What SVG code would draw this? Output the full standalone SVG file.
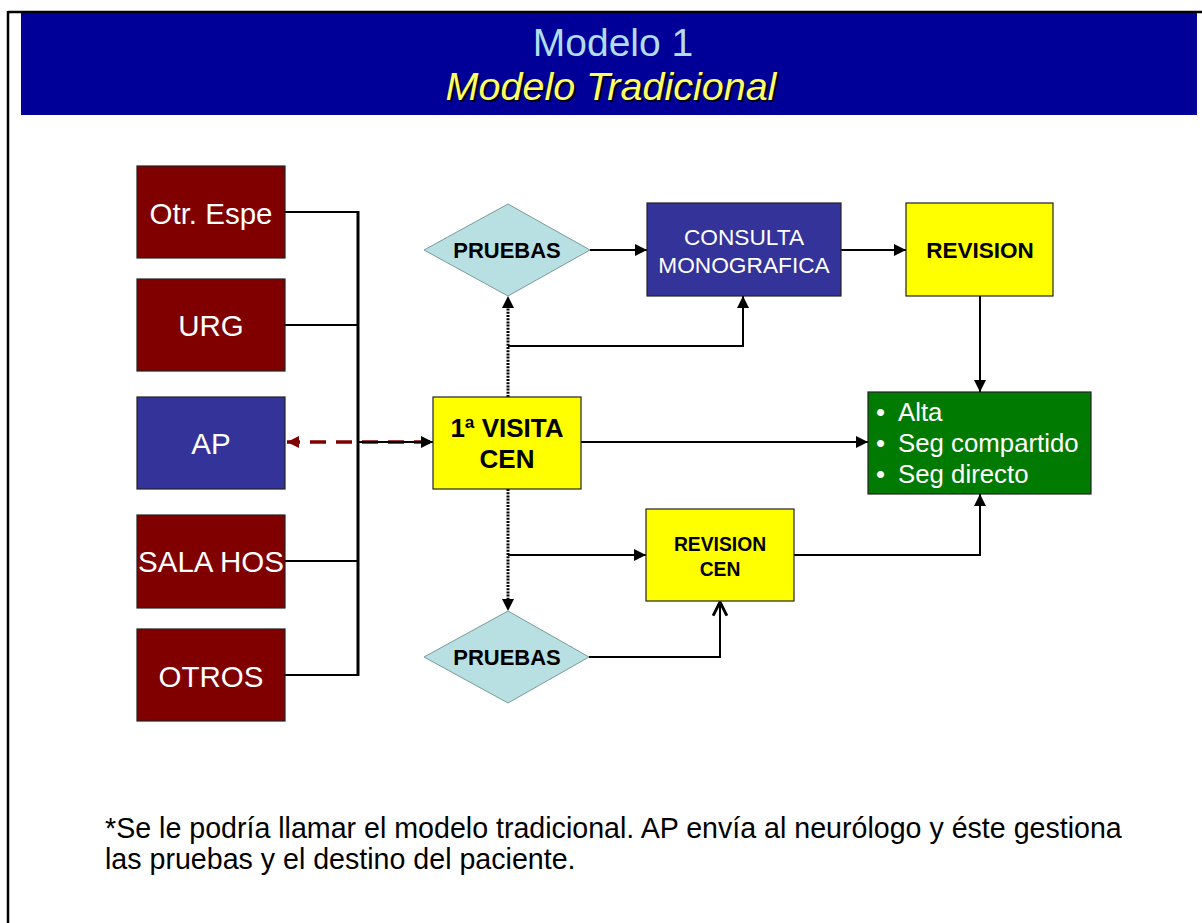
<svg xmlns="http://www.w3.org/2000/svg" width="1202" height="923" viewBox="0 0 1202 923">
<defs>
<style>
.box{stroke:#222;stroke-width:1.2}
.red{fill:#800000}
.blue{fill:#333399}
.yel{fill:#FFFF00}
.grn{fill:#007A00}
.dia{fill:#B8DFE2;stroke:#7a9a9c;stroke-width:1}
.wt{font-family:"Liberation Sans",Arial,sans-serif;fill:#fff;text-anchor:middle}
.bt{font-family:"Liberation Sans",Arial,sans-serif;fill:#000;font-weight:bold;text-anchor:middle}
.ln{fill:none;stroke:#000;stroke-width:2}
.dot{fill:none;stroke:#000;stroke-width:3;stroke-dasharray:2 1.2}
</style>
<marker id="ah" viewBox="0 0 10 10" refX="10" refY="5" markerWidth="12" markerHeight="12" markerUnits="userSpaceOnUse" orient="auto">
<path d="M0,0 L10,5 L0,10 z" fill="#000"/>
</marker>
<marker id="ahr" viewBox="0 0 10 10" refX="10" refY="5" markerWidth="12" markerHeight="12" markerUnits="userSpaceOnUse" orient="auto">
<path d="M0,0 L10,5 L0,10 z" fill="#800000"/>
</marker>
<marker id="ahv" viewBox="0 0 14 14" refX="13" refY="7" markerWidth="16" markerHeight="16" markerUnits="userSpaceOnUse" orient="auto">
<path d="M1,1 L13,7 L1,13" fill="none" stroke="#000" stroke-width="2.5"/>
</marker>
</defs>
<rect x="0" y="0" width="1202" height="923" fill="#fff"/>
<g id="frame">
<line x1="8" y1="12" x2="1202" y2="12" stroke="#000" stroke-width="2.5"/>
<line x1="8" y1="11" x2="8" y2="923" stroke="#000" stroke-width="2.5"/>
</g>
<g id="title">
<rect x="21" y="13" width="1176" height="102" fill="#000099"/>
<text x="613" y="56" font-family="Liberation Sans,Arial,sans-serif" font-size="39" fill="#B0DCEB" text-anchor="middle">Modelo 1</text>
<text x="613" y="102" font-family="Liberation Sans,Arial,sans-serif" font-size="39.5" font-style="italic" fill="#000" text-anchor="middle">Modelo Tradicional</text>
<text x="611" y="100" font-family="Liberation Sans,Arial,sans-serif" font-size="39.5" font-style="italic" fill="#FFFF66" text-anchor="middle">Modelo Tradicional</text>
</g>
<g id="connectors">
<line class="ln" x1="285" y1="212" x2="358" y2="212"/>
<line class="ln" x1="285" y1="325" x2="358" y2="325"/>
<line class="ln" x1="285" y1="561" x2="358" y2="561"/>
<line class="ln" x1="285" y1="675" x2="358" y2="675"/>
<line x1="358" y1="211" x2="358" y2="676" stroke="#000" stroke-width="3"/>
<line x1="430" y1="442" x2="287" y2="442" stroke="#800000" stroke-width="3.5" stroke-dasharray="16 10" marker-end="url(#ahr)"/>
<line class="ln" x1="358" y1="442" x2="433" y2="442" marker-end="url(#ah)"/>
<line class="dot" x1="508" y1="397" x2="508" y2="308"/>
<path d="M502,308 L508,296 L514,308 z" fill="#000"/>
<path class="ln" d="M508,346 L743,346 L743,296" marker-end="url(#ah)"/>
<line class="ln" x1="590" y1="250" x2="647" y2="250" marker-end="url(#ah)"/>
<line class="ln" x1="841" y1="250" x2="906" y2="250" marker-end="url(#ah)"/>
<line class="ln" x1="980" y1="296" x2="980" y2="392" marker-end="url(#ah)"/>
<line class="ln" x1="581" y1="442" x2="868" y2="442" marker-end="url(#ah)"/>
<line class="dot" x1="508" y1="489" x2="508" y2="599"/>
<path d="M502,599 L508,611 L514,599 z" fill="#000"/>
<line class="ln" x1="508" y1="555" x2="646" y2="555" marker-end="url(#ah)"/>
<path class="ln" d="M589,657 L720,657 L720,602" marker-end="url(#ahv)"/>
<path class="ln" d="M794,555 L980,555 L980,494" marker-end="url(#ah)"/>
</g>
<g id="otr-espe"><rect class="box red" x="137" y="166" width="148" height="92"/><text class="wt" x="211" y="224" font-size="29.5">Otr. Espe</text></g>
<g id="urg"><rect class="box red" x="137" y="279" width="148" height="92"/><text class="wt" x="211" y="336" font-size="29.5">URG</text></g>
<g id="ap"><rect class="box blue" x="137" y="397" width="148" height="92"/><text class="wt" x="211" y="454" font-size="29.5">AP</text></g>
<g id="sala-hos"><rect class="box red" x="137" y="515" width="148" height="93"/><text class="wt" x="211" y="572" font-size="29.5">SALA HOS</text></g>
<g id="otros"><rect class="box red" x="137" y="629" width="148" height="92"/><text class="wt" x="211" y="687" font-size="29.5">OTROS</text></g>
<g id="visita"><rect class="box yel" x="433" y="397" width="148" height="92"/><text class="bt" x="507" y="437" font-size="26">1ª VISITA</text><text class="bt" x="507" y="468" font-size="26">CEN</text></g>
<g id="pruebas-top"><polygon class="dia" points="508,204 590,250 508,296 424,250"/><text class="bt" x="507" y="258" font-size="22">PRUEBAS</text></g>
<g id="consulta"><rect class="box blue" x="647" y="203" width="194" height="93"/><text class="wt" x="744" y="245" font-size="22.7">CONSULTA</text><text class="wt" x="744" y="273" font-size="22.7">MONOGRAFICA</text></g>
<g id="revision"><rect class="box yel" x="906" y="203" width="147" height="93"/><text class="bt" x="980" y="258" font-size="22.5">REVISION</text></g>
<g id="destino"><rect class="box grn" x="868" y="392" width="223" height="102"/>
<g font-family="Liberation Sans,Arial,sans-serif" font-size="25.8" fill="#fff">
<text x="876" y="421">•</text><text x="898" y="421">Alta</text>
<text x="876" y="452">•</text><text x="898" y="452">Seg compartido</text>
<text x="876" y="483">•</text><text x="898" y="483">Seg directo</text>
</g></g>
<g id="revision-cen"><rect class="box yel" x="646" y="509" width="148" height="92"/><text class="bt" x="720" y="551" font-size="19.3">REVISION</text><text class="bt" x="720" y="576" font-size="19.3">CEN</text></g>
<g id="pruebas-bottom"><polygon class="dia" points="508,611 589,657 508,703 424,657"/><text class="bt" x="507" y="665" font-size="22">PRUEBAS</text></g>
<g id="note" font-family="Liberation Sans,Arial,sans-serif" font-size="28.6" fill="#000">
<text x="105" y="838">*Se le podría llamar el modelo tradicional. AP envía al neurólogo y éste gestiona</text>
<text x="105" y="869">las pruebas y el destino del paciente.</text>
</g>
</svg>
